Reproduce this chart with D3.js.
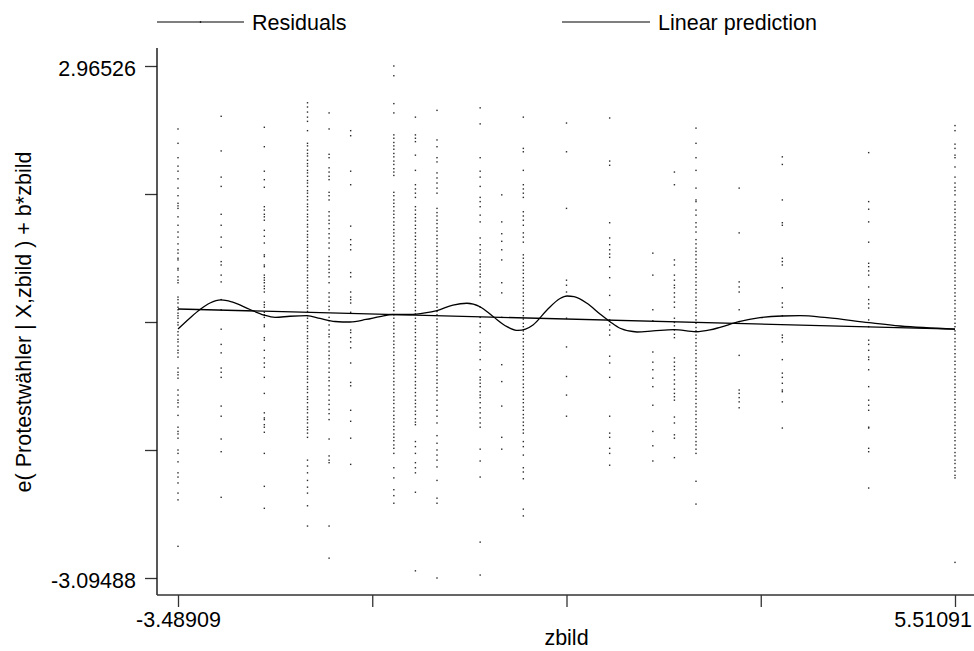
<!DOCTYPE html>
<html>
<head>
<meta charset="utf-8">
<script src="https://cdn.jsdelivr.net/npm/d3@7"></script>
<style>
  html, body { margin: 0; padding: 0; background: #fff; }
  svg { display: block; }
  text { font-family: "Liberation Sans", Arial, Helvetica, sans-serif; fill: #000; }
</style>
</head>
<body>
<svg id="chart" width="974" height="651"></svg>
<script>
// Axis ticks (Stata-style: only min and max are labelled)
const xTickValues = [-3.48909, -1.23909, 1.01091, 3.26091, 5.51091];
const xTickLabels = ["-3.48909", "", "", "", "5.51091"];
const yTickValues = [-3.09488, -1.579845, -0.06481, 1.450225, 2.96526];
const yTickLabels = ["-3.09488", "", "", "", "2.96526"];

// Distinct values of zbild observed in the sample
const zbildLevels = [-3.48909, -2.98909, -2.48909, -1.98909, -1.73909, -1.48909,
  -0.98909, -0.73909, -0.48909, 0.01091, 0.26091, 0.51091, 1.01091, 1.51091,
  2.01091, 2.26091, 2.51091, 3.01091, 3.51091, 4.51091, 5.51091];

// Component-plus-residual values, e(Protestwähler | X,zbild) + b*zbild, per zbild level
const residualsByLevel = [
  [2.22, 2.05, 1.88, 1.78, 1.72, 1.63, 1.52, 1.43, 1.34, 1.31, 1.28, 1.18, 1.08, 1.00, 0.94, 0.86, 0.79, 0.75, 0.69, 0.67, 0.57, 0.55, 0.47, 0.43, 0.40, 0.23, 0.20, 0.16, 0.11, 0.08, 0.04, 0.01, -0.02, -0.07, -0.10, -0.18, -0.22, -0.27, -0.30, -0.35, -0.40, -0.43, -0.48, -0.61, -0.66, -0.69, -0.73, -0.87, -0.93, -0.99, -1.02, -1.07, -1.17, -1.31, -1.36, -1.39, -1.44, -1.58, -1.62, -1.72, -1.85, -1.90, -1.97, -2.09, -2.17, -2.72],
  [2.37, 1.96, 1.65, 1.54, 1.21, 1.08, 0.94, 0.82, 0.65, 0.61, 0.49, 0.41, 0.20, 0.08, -0.15, -0.33, -0.43, -0.61, -0.66, -0.72, -1.06, -1.18, -1.45, -1.60, -2.14],
  [2.24, 2.01, 1.72, 1.62, 1.53, 1.30, 1.26, 1.21, 1.18, 1.14, 1.02, 0.95, 0.87, 0.73, 0.71, 0.61, 0.59, 0.49, 0.46, 0.43, 0.40, 0.36, 0.33, 0.29, 0.17, 0.14, 0.11, 0.05, 0.02, -0.01, -0.10, -0.12, -0.25, -0.28, -0.40, -0.49, -0.55, -0.60, -0.72, -0.91, -1.14, -1.20, -1.22, -1.28, -1.31, -1.37, -1.62, -2.01, -2.27],
  [2.53, 2.48, 2.42, 2.36, 2.31, 2.20, 2.05, 2.02, 1.97, 1.93, 1.90, 1.85, 1.81, 1.78, 1.73, 1.70, 1.66, 1.61, 1.58, 1.54, 1.49, 1.46, 1.42, 1.38, 1.33, 1.30, 1.26, 1.21, 1.18, 1.14, 1.09, 1.06, 1.01, 0.97, 0.94, 0.90, 0.85, 0.82, 0.78, 0.73, 0.70, 0.66, 0.61, 0.58, 0.54, 0.49, 0.46, 0.42, 0.37, 0.34, 0.30, 0.25, 0.22, 0.18, 0.13, 0.10, 0.06, 0.01, -0.02, -0.06, -0.11, -0.14, -0.18, -0.23, -0.26, -0.30, -0.35, -0.38, -0.42, -0.47, -0.50, -0.54, -0.59, -0.62, -0.66, -0.71, -0.74, -0.78, -0.83, -0.86, -0.90, -0.95, -0.98, -1.02, -1.07, -1.10, -1.14, -1.19, -1.22, -1.26, -1.31, -1.34, -1.38, -1.43, -1.70, -1.77, -1.85, -1.94, -2.02, -2.09, -2.24, -2.48],
  [2.41, 2.22, 1.92, 1.88, 1.76, 1.71, 1.66, 1.62, 1.47, 1.43, 1.38, 1.24, 1.19, 1.14, 1.10, 1.04, 0.98, 0.93, 0.87, 0.81, 0.71, 0.66, 0.61, 0.56, 0.52, 0.47, 0.40, 0.28, 0.23, 0.18, 0.12, 0.08, -0.01, -0.05, -0.10, -0.16, -0.21, -0.24, -0.31, -0.36, -0.41, -0.46, -0.50, -0.55, -0.61, -0.66, -0.72, -0.76, -0.82, -0.87, -0.93, -0.99, -1.04, -1.10, -1.15, -1.22, -1.45, -1.65, -1.70, -1.73, -2.48, -2.86],
  [2.20, 2.14, 1.72, 1.56, 1.07, 0.91, 0.85, 0.79, 0.52, 0.47, 0.29, 0.23, 0.20, 0.16, 0.05, -0.16, -0.19, -0.25, -0.30, -0.37, -0.55, -0.78, -0.82, -1.11, -1.24, -1.44, -1.75],
  [2.96526, 2.85, 2.52, 2.41, 2.15, 2.11, 2.06, 2.02, 1.98, 1.93, 1.89, 1.84, 1.80, 1.75, 1.71, 1.67, 1.47, 1.43, 1.38, 1.34, 1.30, 1.25, 1.21, 1.17, 1.12, 1.08, 1.03, 0.99, 0.95, 0.90, 0.86, 0.81, 0.77, 0.73, 0.68, 0.64, 0.59, 0.55, 0.51, 0.46, 0.42, 0.37, 0.33, 0.29, 0.24, 0.20, 0.15, 0.11, 0.07, 0.02, -0.02, -0.07, -0.11, -0.15, -0.20, -0.24, -0.29, -0.33, -0.37, -0.42, -0.46, -0.51, -0.55, -0.59, -0.64, -0.68, -0.73, -0.77, -0.81, -0.86, -0.90, -0.95, -0.99, -1.03, -1.08, -1.12, -1.17, -1.21, -1.25, -1.30, -1.34, -1.39, -1.43, -1.47, -1.52, -1.56, -1.62, -1.79, -1.91, -2.05, -2.12, -2.21],
  [2.36, 2.15, 2.11, 2.07, 1.91, 1.73, 1.56, 1.51, 1.46, 1.41, 1.30, 1.26, 1.21, 1.17, 1.13, 1.08, 1.04, 0.99, 0.95, 0.91, 0.86, 0.82, 0.77, 0.73, 0.69, 0.64, 0.60, 0.55, 0.51, 0.47, 0.42, 0.38, 0.33, 0.29, 0.25, 0.20, 0.16, 0.11, 0.07, 0.03, -0.02, -0.06, -0.11, -0.15, -0.19, -0.24, -0.28, -0.33, -0.37, -0.41, -0.46, -0.50, -0.55, -0.59, -0.63, -0.68, -0.72, -0.77, -0.81, -0.85, -0.90, -0.94, -0.99, -1.03, -1.07, -1.12, -1.16, -1.21, -1.25, -1.28, -1.48, -1.54, -1.62, -1.73, -1.79, -1.85, -2.08, -3.01],
  [2.44, 2.09, 2.01, 1.88, 1.83, 1.70, 1.64, 1.58, 1.52, 1.46, 1.28, 1.23, 1.19, 1.14, 1.10, 1.05, 1.01, 0.96, 0.92, 0.87, 0.83, 0.78, 0.74, 0.69, 0.65, 0.60, 0.56, 0.51, 0.47, 0.42, 0.38, 0.33, 0.29, 0.24, 0.20, 0.15, 0.11, 0.06, 0.02, -0.03, -0.07, -0.12, -0.16, -0.21, -0.25, -0.30, -0.34, -0.39, -0.43, -0.48, -0.52, -0.57, -0.61, -0.66, -0.70, -0.75, -0.79, -0.84, -0.88, -0.93, -0.99, -1.05, -1.11, -1.18, -1.26, -1.41, -1.50, -1.58, -1.64, -1.70, -1.78, -1.94, -2.15, -2.21, -3.09488],
  [2.47, 2.28, 1.88, 1.72, 1.65, 1.54, 1.41, 1.36, 1.30, 1.20, 1.12, 0.93, 0.85, 0.79, 0.75, 0.67, 0.62, 0.59, 0.55, 0.50, 0.47, 0.40, 0.35, 0.29, 0.25, 0.11, -0.01, -0.08, -0.12, -0.19, -0.31, -0.36, -0.40, -0.51, -0.63, -0.72, -0.75, -0.79, -0.83, -0.89, -0.93, -0.96, -1.02, -1.08, -1.14, -1.20, -1.26, -1.31, -1.57, -1.71, -1.90, -2.67, -3.06],
  [1.44, 1.12, 0.98, 0.89, 0.79, 0.67, 0.40, 0.28, -0.01, -0.57, -0.77, -1.06, -1.43, -1.57],
  [2.36, 1.99, 1.95, 1.73, 1.56, 1.51, 1.46, 1.41, 1.24, 1.19, 1.14, 1.08, 0.99, 0.94, 0.88, 0.73, 0.69, 0.64, 0.60, 0.55, 0.51, 0.46, 0.42, 0.37, 0.33, 0.28, 0.24, 0.19, 0.15, 0.10, 0.06, 0.01, -0.03, -0.08, -0.12, -0.17, -0.21, -0.26, -0.30, -0.35, -0.39, -0.44, -0.48, -0.53, -0.57, -0.62, -0.66, -0.71, -0.75, -0.80, -0.84, -0.89, -0.93, -0.98, -1.02, -1.07, -1.11, -1.16, -1.20, -1.25, -1.29, -1.34, -1.38, -1.48, -1.54, -1.64, -1.79, -1.84, -1.92, -2.28, -2.36],
  [2.29, 1.95, 1.28, 0.43, 0.37, 0.29, -0.02, -0.36, -0.71, -0.93, -1.18],
  [2.35, 1.84, 1.79, 1.11, 0.93, 0.85, 0.79, 0.74, 0.70, 0.59, 0.46, 0.25, 0.08, -0.04, -0.10, -0.16, -0.22, -0.47, -0.55, -0.72, -1.18, -1.38, -1.43, -1.56, -1.62, -1.76],
  [0.75, 0.49, 0.08, -0.05, -0.42, -0.54, -0.63, -0.73, -0.83, -1.05, -1.36, -1.53, -1.71],
  [1.71, 1.56, 0.67, 0.61, 0.49, 0.43, 0.37, 0.34, 0.28, 0.23, 0.17, 0.11, -0.02, -0.07, -0.11, -0.16, -0.21, -0.25, -0.49, -0.54, -0.59, -0.63, -0.69, -0.75, -0.80, -0.86, -0.91, -0.95, -0.99, -1.19, -1.26, -1.40, -1.44, -1.67],
  [2.23, 2.05, 1.88, 1.73, 1.52, 1.38, 1.36, 1.26, 1.20, 1.11, 1.06, 1.00, 0.91, 0.86, 0.81, 0.77, 0.73, 0.68, 0.64, 0.59, 0.55, 0.50, 0.46, 0.41, 0.37, 0.32, 0.28, 0.23, 0.19, 0.14, 0.10, 0.05, 0.01, -0.04, -0.08, -0.13, -0.17, -0.22, -0.26, -0.31, -0.35, -0.40, -0.44, -0.49, -0.53, -0.58, -0.62, -0.67, -0.71, -0.76, -0.80, -0.85, -0.89, -0.94, -0.98, -1.03, -1.07, -1.12, -1.16, -1.21, -1.25, -1.30, -1.34, -1.39, -1.43, -1.48, -1.52, -1.57, -1.62, -1.95, -2.22],
  [1.52, 0.99, 0.41, 0.35, 0.29, 0.08, -0.06, -0.46, -0.87, -0.91, -0.96, -1.01, -1.08],
  [1.89, 1.80, 1.38, 1.11, 1.08, 0.69, 0.65, 0.61, 0.34, 0.16, 0.11, 0.01, -0.22, -0.25, -0.30, -0.51, -0.67, -0.72, -0.79, -0.87, -0.89, -1.01, -1.32],
  [1.94, 1.36, 1.27, 1.12, 0.88, 0.63, 0.59, 0.54, 0.49, 0.35, 0.20, 0.15, 0.10, -0.04, -0.12, -0.28, -0.33, -0.40, -0.48, -0.51, -0.63, -0.83, -0.99, -1.05, -1.11, -1.31, -1.32, -1.56, -1.60, -2.03],
  [2.26, 2.20, 2.04, 1.99, 1.91, 1.88, 1.77, 1.65, 1.58, 1.53, 1.49, 1.44, 1.36, 1.32, 1.27, 1.23, 1.18, 1.14, 1.09, 1.05, 1.00, 0.96, 0.91, 0.87, 0.82, 0.78, 0.73, 0.69, 0.64, 0.60, 0.55, 0.51, 0.46, 0.42, 0.37, 0.33, 0.28, 0.24, 0.19, 0.15, 0.10, 0.06, 0.01, -0.03, -0.08, -0.12, -0.17, -0.21, -0.26, -0.30, -0.35, -0.39, -0.44, -0.48, -0.53, -0.57, -0.62, -0.66, -0.71, -0.75, -0.80, -0.84, -0.89, -0.93, -0.98, -1.02, -1.07, -1.11, -1.16, -1.20, -1.25, -1.29, -1.34, -1.38, -1.43, -1.47, -1.52, -1.56, -1.61, -1.65, -1.70, -1.74, -1.79, -1.83, -1.88, -1.91, -2.91]
];

// Smoothed residual curve (zbild, fitted value)
const smoothX = [-3.489, -3.350, -3.234, -3.118, -2.991, -2.864, -2.655, -2.493, -2.365, -2.192,
  -1.995, -1.844, -1.671, -1.497, -1.311, -1.149, -0.999, -0.802, -0.628, -0.489,
  -0.304, -0.142, 0.009, 0.160, 0.322, 0.449, 0.623, 0.785, 0.936, 1.017,
  1.098, 1.248, 1.399, 1.515, 1.631, 1.828, 2.013, 2.256, 2.511, 2.673,
  2.789, 3.009, 3.252, 3.507, 3.716, 4.028, 4.515, 4.874, 5.511];
const smoothY = [-0.148, -0.017, 0.083, 0.160, 0.196, 0.172, 0.083, 0.018, -0.009, 0.003,
  0.010, -0.023, -0.059, -0.065, -0.035, 0.000, 0.024, 0.024, 0.042, 0.071,
  0.136, 0.157, 0.116, 0.000, -0.120, -0.165, -0.100, 0.077, 0.213, 0.243,
  0.235, 0.157, 0.030, -0.061, -0.139, -0.183, -0.171, -0.154, -0.180, -0.159,
  -0.128, -0.061, -0.014, 0.006, 0.010, -0.014, -0.073, -0.112, -0.148];

// Linear prediction b*zbild at the two ends of the zbild range
const linearX = [-3.48909, 5.51091];
const linearY = [0.089, -0.148];

const legendLabels = ["Residuals", "Linear prediction"];
const xTitle = "zbild";
const yTitle = "e( Protestwähler | X,zbild ) + b*zbild";

// ---------------------------------------------------------------
const W = 974, H = 651;
const frame = { left: 157, top: 48, right: 974, bottom: 595 };
const FONT = 21.5;

const svg = d3.select("#chart");
svg.append("rect").attr("width", W).attr("height", H).attr("fill", "#fff");

const x = d3.scaleLinear().domain([xTickValues[0], xTickValues[xTickValues.length - 1]]).range([178, 955]);
const y = d3.scaleLinear().domain([yTickValues[0], yTickValues[yTickValues.length - 1]]).range([578, 66]);

// Scatter of residual points
const points = [];
residualsByLevel.forEach((col, i) => col.forEach(v => points.push([zbildLevels[i], v])));
svg.append("g").selectAll("rect").data(points).join("rect")
  .attr("x", d => x(d[0]) - 0.7)
  .attr("y", d => y(d[1]) - 0.7)
  .attr("width", 1.4).attr("height", 1.4)
  .attr("fill", "#2a2a2a");

// Linear prediction
const line = d3.line().x(d => x(d[0])).y(d => y(d[1]));
svg.append("path")
  .datum(linearX.map((v, i) => [v, linearY[i]]))
  .attr("d", line)
  .attr("fill", "none").attr("stroke", "#000").attr("stroke-width", 1.3);

// Smoothed curve
svg.append("path")
  .datum(smoothX.map((v, i) => [v, smoothY[i]]))
  .attr("d", line.curve(d3.curveMonotoneX))
  .attr("fill", "none").attr("stroke", "#000").attr("stroke-width", 1.3);

// Y axis
const gY = svg.append("g").attr("transform", `translate(${frame.left},0)`)
  .call(d3.axisLeft(y).tickValues(yTickValues).tickFormat((d, i) => yTickLabels[i])
    .tickSize(12).tickPadding(9));
gY.select(".domain").remove();
gY.selectAll(".tick line").attr("stroke", "#333").attr("stroke-width", 1.3);
gY.selectAll(".tick text").attr("font-size", FONT).attr("dy", "0.45em")
  .style("font-family", "'Liberation Sans', Arial, sans-serif").attr("fill", "#000");

// X axis
const gX = svg.append("g").attr("transform", `translate(0,${frame.bottom})`)
  .call(d3.axisBottom(x).tickValues(xTickValues).tickFormat((d, i) => xTickLabels[i])
    .tickSize(12).tickPadding(5));
gX.select(".domain").remove();
gX.selectAll(".tick line").attr("stroke", "#333").attr("stroke-width", 1.3);
gX.selectAll(".tick text").attr("font-size", FONT)
  .style("font-family", "'Liberation Sans', Arial, sans-serif").attr("fill", "#000");
// keep end labels inside the canvas
gX.selectAll(".tick").each(function () {
  const t = d3.select(this);
  const txt = t.select("text");
  const w = txt.node().getComputedTextLength();
  const tx = +t.attr("transform").match(/translate\(([-\d.]+)/)[1];
  const over = tx + w / 2 - (W - 2);
  if (over > 0) txt.attr("x", -over);
});

// Axis lines
svg.append("line").attr("x1", frame.left).attr("x2", frame.left)
  .attr("y1", frame.top).attr("y2", frame.bottom)
  .attr("stroke", "#111").attr("stroke-width", 1.4);
svg.append("line").attr("x1", frame.left).attr("x2", frame.right)
  .attr("y1", frame.bottom).attr("y2", frame.bottom)
  .attr("stroke", "#333").attr("stroke-width", 1.4);

// Axis titles
svg.append("text")
  .attr("x", x(xTickValues[2])).attr("y", 645)
  .attr("text-anchor", "middle").attr("font-size", FONT)
  .text(xTitle);
svg.append("text")
  .attr("transform", `translate(31,${y((yTickValues[0] + yTickValues[4]) / 2)}) rotate(-90)`)
  .attr("text-anchor", "middle").attr("font-size", FONT)
  .text(yTitle);

// Legend
const legend = svg.append("g");
const keys = [
  { x1: 157, x2: 244, tx: 252, marker: true },
  { x1: 562, x2: 650, tx: 658, marker: false }
];
keys.forEach((k, i) => {
  legend.append("line").attr("x1", k.x1).attr("x2", k.x2).attr("y1", 22).attr("y2", 22)
    .attr("stroke", "#000").attr("stroke-width", 1.1);
  if (k.marker) {
    legend.append("rect").attr("x", (k.x1 + k.x2) / 2 - 0.7).attr("y", 21.3)
      .attr("width", 1.4).attr("height", 1.4).attr("fill", "#000");
  }
  legend.append("text").attr("x", k.tx).attr("y", 29.5).attr("font-size", FONT)
    .text(legendLabels[i]);
});
</script>
</body>
</html>
